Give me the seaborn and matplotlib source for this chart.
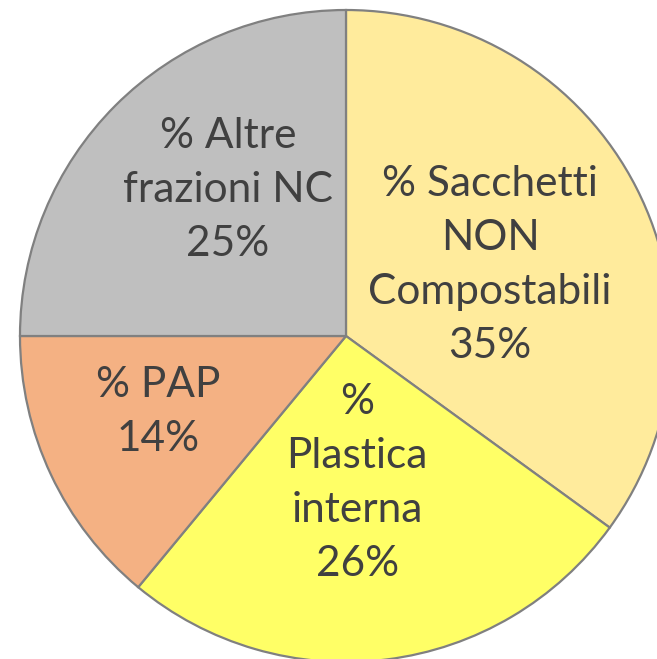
import matplotlib
matplotlib.use("Agg")
import matplotlib.pyplot as plt
import seaborn as sns

categories = ["% Sacchetti\nNON\nCompostabili", "%\nPlastica\ninterna", "% PAP", "% Altre\nfrazioni NC"]
values = [35, 26, 14, 25]
colors = ["#FFEB9C", "#FFFF66", "#F4B183", "#BFBFBF"]

sns.set_theme(style="white")
plt.rcParams['font.family'] = ['Lato', 'DejaVu Sans']

fig = plt.figure(figsize=(6.57, 6.59), dpi=100)
ax = fig.add_axes([0, 0, 1, 1])
wedges, _ = ax.pie(values, colors=colors, startangle=90, counterclock=False,
                   radius=1.0, wedgeprops=dict(edgecolor="#808080", linewidth=1.6))

# label positions (data coords, pie radius = 1)
label_pos = [(0.442, 0.218), (0.034, -0.451), (-0.577, -0.233), (-0.362, 0.448)]
for cat, v, (x, y) in zip(categories, values, label_pos):
    ax.text(x, y, f"{cat}\n{v}%", ha="center", va="center", fontsize=30.5,
            color="#404040", linespacing=1.52)

ax.set_xlim(-1.0613, 0.954)
ax.set_ylim(-0.9908, 1.0307)
ax.set_aspect("equal")
ax.axis("off")
fig.savefig("out.png", dpi=100)
